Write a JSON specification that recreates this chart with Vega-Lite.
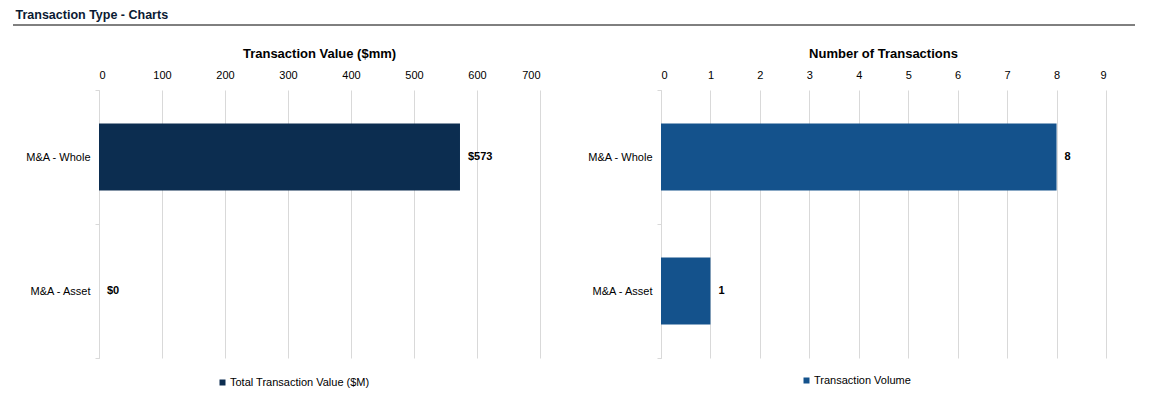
{
  "$schema": "https://vega.github.io/schema/vega-lite/v6.json",
  "padding": {"left": 12, "top": 8, "right": 15, "bottom": 5},
  "background": "white",
  "config": {"font": "Liberation Sans", "view": {"stroke": null}},
  "datasets": {
    "value": [
      {"type": "M&A - Whole", "value": 573},
      {"type": "M&A - Asset", "value": 0}
    ],
    "count": [
      {"type": "M&A - Whole", "count": 8},
      {"type": "M&A - Asset", "count": 1}
    ],
    "header": [{"a": 0, "b": 1, "y": 0}]
  },
  "spacing": 22,
  "vconcat": [
    {
      "width": 1036,
      "height": 1,
      "title": {"text": "Transaction Type - Charts", "anchor": "start", "frame": "bounds", "fontSize": 12.5, "fontWeight": "bold", "color": "#0a1a33", "offset": 3, "dx": 3},
      "data": {"name": "header"},
      "mark": {"type": "rule", "color": "black", "strokeWidth": 1},
      "encoding": {
        "x": {"field": "a", "type": "quantitative", "scale": {"domain": [0, 1], "range": [-86, 1036]}, "axis": null},
        "x2": {"field": "b"},
        "y": {"field": "y", "type": "quantitative", "scale": {"domain": [0, 1]}, "axis": null}
      }
    },
    {
      "spacing": 47,
      "resolve": {"scale": {"color": "independent", "x": "independent", "y": "independent"}, "legend": {"color": "independent"}},
      "hconcat": [
        {
          "width": 441,
          "height": 268,
          "title": {"text": "Transaction Value ($mm)", "anchor": "middle", "frame": "group", "fontSize": 13, "fontWeight": "bold", "color": "black", "offset": 8},
          "data": {"name": "value"},
          "encoding": {
            "y": {"field": "type", "type": "nominal", "sort": null,
              "scale": {"paddingInner": 0, "paddingOuter": 0},
              "axis": {"title": null, "tickBand": "extent", "grid": false, "domainColor": "#d9d9d9", "tickColor": "#d9d9d9", "tickSize": 4, "labelPadding": 5, "labelFontSize": 11, "labelColor": "black", "minExtent": 86, "maxExtent": 86}}
          },
          "layer": [
            {
              "mark": {"type": "bar", "height": {"band": 0.5}},
              "encoding": {
                "x": {"field": "value", "type": "quantitative", "scale": {"domain": [0, 700]},
                  "axis": {"orient": "top", "title": null, "values": [0, 100, 200, 300, 400, 500, 600, 700], "domain": false, "ticks": false, "gridColor": "#d9d9d9", "labelPadding": 10, "labelFontSize": 11, "labelColor": "black"}},
                "color": {"datum": "Total Transaction Value ($M)", "type": "nominal", "scale": {"range": ["#0c2d50"]},
                  "legend": {"orient": "none", "legendX": 118, "legendY": 287, "title": null, "symbolType": "square", "symbolSize": 36, "symbolStrokeWidth": 0, "labelFontSize": 11, "labelColor": "black", "labelOffset": 2}}
              }
            },
            {
              "mark": {"type": "text", "align": "left", "dx": 8, "fontWeight": "bold", "fontSize": 11, "color": "black"},
              "encoding": {
                "x": {"field": "value", "type": "quantitative"},
                "text": {"field": "value", "type": "quantitative", "format": "$.0f"}
              }
            }
          ]
        },
        {
          "width": 445,
          "height": 268,
          "title": {"text": "Number of Transactions", "anchor": "middle", "frame": "group", "fontSize": 13, "fontWeight": "bold", "color": "black", "offset": 8},
          "data": {"name": "count"},
          "encoding": {
            "y": {"field": "type", "type": "nominal", "sort": null,
              "scale": {"paddingInner": 0, "paddingOuter": 0},
              "axis": {"title": null, "tickBand": "extent", "grid": false, "domainColor": "#d9d9d9", "tickColor": "#d9d9d9", "tickSize": 4, "labelPadding": 5, "labelFontSize": 11, "labelColor": "black", "minExtent": 72, "maxExtent": 72}}
          },
          "layer": [
            {
              "mark": {"type": "bar", "height": {"band": 0.5}},
              "encoding": {
                "x": {"field": "count", "type": "quantitative", "scale": {"domain": [0, 9]},
                  "axis": {"orient": "top", "title": null, "values": [0, 1, 2, 3, 4, 5, 6, 7, 8, 9], "domain": false, "ticks": false, "gridColor": "#d9d9d9", "labelPadding": 10, "labelFontSize": 11, "labelColor": "black"}},
                "color": {"datum": "Transaction Volume", "type": "nominal", "scale": {"range": ["#14528c"]},
                  "legend": {"orient": "none", "legendX": 140, "legendY": 285, "title": null, "symbolType": "square", "symbolSize": 36, "symbolStrokeWidth": 0, "labelFontSize": 11, "labelColor": "black", "labelOffset": 2}}
              }
            },
            {
              "mark": {"type": "text", "align": "left", "dx": 8, "fontWeight": "bold", "fontSize": 11, "color": "black"},
              "encoding": {
                "x": {"field": "count", "type": "quantitative"},
                "text": {"field": "count", "type": "quantitative", "format": "d"}
              }
            }
          ]
        }
      ]
    }
  ]
}
